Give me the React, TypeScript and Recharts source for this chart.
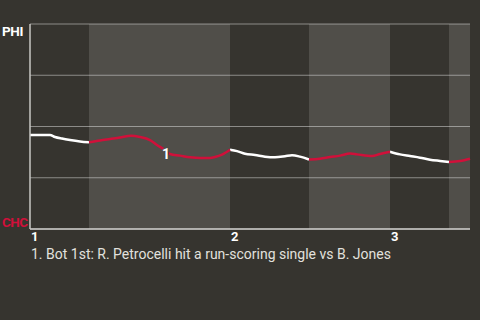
import React from "react";
import {
  LineChart,
  Line,
  XAxis,
  YAxis,
  CartesianGrid,
  ReferenceArea,
  ReferenceDot,
} from "recharts";

// Game progress (play scale) and PHI win probability (%)
const progress = [0, 2, 2.5, 3.2, 4, 5, 5.9, 7, 8, 9, 10.1, 11, 12, 12.7, 13.5, 14, 15, 16, 17, 18, 18.5, 19.2, 20, 20.7, 21.5, 22.5, 23.5, 24.5, 25.5, 26.2, 27, 27.9, 29, 30, 31, 32, 32.7, 34.2, 35, 36, 37, 38, 39, 40, 41, 41.9, 43, 44];
const phiWinPct = [45.9, 45.9, 44.9, 44.1, 43.4, 42.7, 42.3, 43.2, 43.9, 44.6, 45.5, 44.9, 43.4, 41.0, 38.5, 36.6, 35.8, 35.0, 34.6, 34.6, 35.1, 36.3, 38.7, 38.0, 36.7, 36.1, 35.3, 35.0, 35.5, 36.0, 35.3, 33.9, 34.3, 35.1, 35.8, 36.8, 36.4, 35.6, 36.6, 37.7, 36.4, 35.6, 34.8, 33.8, 33.2, 32.7, 33.2, 34.3];

// Half innings
const topHalves: [number, number][] = [[0, 5.9], [20, 27.9], [36, 41.9]];
const bottomHalves: [number, number][] = [[5.9, 20], [27.9, 36], [41.9, 44]];

// Innings axis
const inningStarts = [0, 20, 36];
const inningLabels = ["1", "2", "3"];
const domainMax = 44;

// Team labels
const topTeam = "PHI";
const bottomTeam = "CHC";

// Annotations
const annotationAt = [13.5];
const annotationLabels = ["1"];
const annotationNotes = ["1. Bot 1st: R. Petrocelli hit a run-scoring single vs B. Jones"];

const BG = "#36342f";
const RED = "#d0103a";
const FONT = "Roboto, 'Noto Sans', sans-serif";

const inRange = (x: number, ranges: [number, number][]) =>
  ranges.some(([a, b]) => x >= a && x <= b);

const data = progress.map((x, i) => ({
  x,
  phi: inRange(x, topHalves) ? phiWinPct[i] : null,
  chc: inRange(x, bottomHalves) ? phiWinPct[i] : null,
}));

const XTick = (props: any) => {
  const { x, y, payload } = props;
  const idx = inningStarts.indexOf(payload.value);
  return (
    <text x={x + 1} y={y} dy={4} textAnchor="start" fill="#ffffff" fontSize={13} fontWeight={700} fontFamily={FONT}>
      {idx >= 0 ? inningLabels[idx] : ""}
    </text>
  );
};

const YTick = (props: any) => {
  const { y, payload } = props;
  if (payload.value === 100)
    return (
      <text x={2} y={y + 12} textAnchor="start" fill="#ffffff" fontSize={13.5} fontWeight={700} fontFamily={FONT} letterSpacing={-0.4}>
        {topTeam}
      </text>
    );
  if (payload.value === 0)
    return (
      <text x={2} y={y - 2.5} textAnchor="start" fill={RED} fontSize={13.5} fontWeight={700} fontFamily={FONT} letterSpacing={-0.6}>
        {bottomTeam}
      </text>
    );
  return null;
};

const AnnLabel = (label: string) => (props: any) => {
  const { viewBox } = props;
  const cx = viewBox.x + (viewBox.width || 0) / 2;
  const cy = viewBox.y + (viewBox.height || 0) / 2;
  return (
    <text
      x={cx + 1}
      y={cy + 9}
      textAnchor="middle"
      fill="#ffffff"
      fontSize={14}
      fontWeight={700}
      fontFamily={FONT}
      stroke="#4e4d4b"
      strokeWidth={2}
      paintOrder="stroke"
    >
      {label}
    </text>
  );
};

export default function App() {
  return (
    <div style={{ position: "fixed", left: 0, top: 0, width: 480, height: 320, background: BG, overflow: "hidden" }}>
      <LineChart width={480} height={320} data={data} margin={{ top: 24, right: 10, bottom: 61, left: 0 }}>
        <ReferenceArea
          x1={bottomHalves[0][0]} x2={bottomHalves[0][1]} fill="#ffffff" fillOpacity={0.13} stroke="none" ifOverflow="visible"
        />
        <ReferenceArea
          x1={bottomHalves[1][0]} x2={bottomHalves[1][1]} fill="#ffffff" fillOpacity={0.13} stroke="none" ifOverflow="visible"
        />
        <ReferenceArea
          x1={bottomHalves[2][0]} x2={bottomHalves[2][1]} fill="#ffffff" fillOpacity={0.13} stroke="none" ifOverflow="visible"
        />
        <CartesianGrid vertical={false} stroke="#8c8b88" strokeWidth={1} />
        <XAxis
          dataKey="x"
          type="number"
          domain={[0, domainMax]}
          ticks={inningStarts}
          tick={<XTick />}
          tickLine={false}
          axisLine={{ stroke: "#c8c7c4", strokeWidth: 1.5 }}
          height={30}
          interval={0}
        />
        <YAxis
          type="number"
          domain={[0, 100]}
          ticks={[0, 25, 50, 75, 100]}
          tick={<YTick />}
          tickLine={false}
          axisLine={{ stroke: "#c8c7c4", strokeWidth: 1.5 }}
          width={30}
          interval={0}
        />
        <Line type="monotone" dataKey="phi" stroke="#ffffff" strokeWidth={2.5} dot={false} isAnimationActive={false} connectNulls={false} />
        <Line type="monotone" dataKey="chc" stroke={RED} strokeWidth={2.5} dot={false} isAnimationActive={false} connectNulls={false} />
        {annotationAt.map((ax, i) => (
          <ReferenceDot
            key={i}
            x={ax}
            y={phiWinPct[progress.indexOf(ax)]}
            r={0}
            fill="none"
            stroke="none"
            label={AnnLabel(annotationLabels[i])}
          />
        ))}
      </LineChart>
      <div
        style={{
          position: "absolute",
          left: 31,
          top: 246,
          color: "#e2e1de",
          fontFamily: FONT,
          fontSize: 14,
          whiteSpace: "nowrap",
        }}
      >
        {annotationNotes[0]}
      </div>
    </div>
  );
}
